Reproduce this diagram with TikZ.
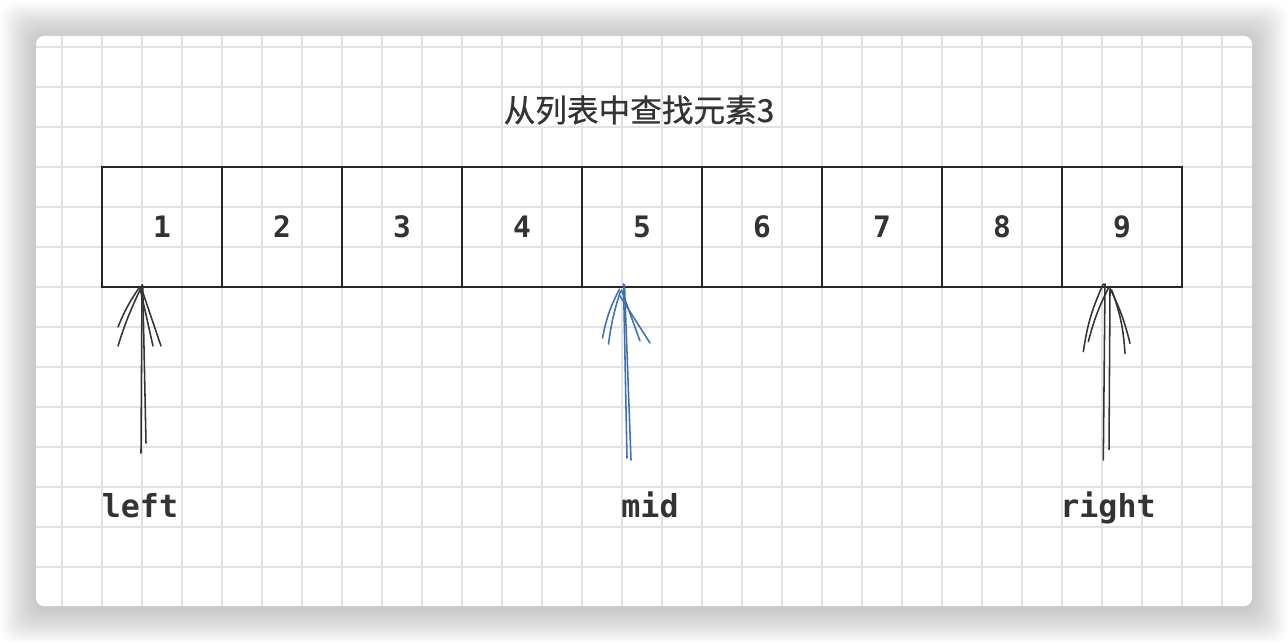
\documentclass[tikz,border=0pt]{standalone}
\usepackage{fontspec}
\usepackage{tikz}
\usetikzlibrary{calc}
\usepackage{xcolor}
\newfontfamily\cjk{Noto Sans CJK SC}[FakeBold=0.6]
\newfontfamily\codefont{DejaVu Sans Mono}
\definecolor{gridgray}{HTML}{E2E2E2}
\definecolor{textgray}{HTML}{333333}
\definecolor{penblue}{HTML}{3D6FB5}
\tikzset{
  cellbox/.style={draw=black!85, line width=1pt, minimum width=3cm, minimum height=3cm,
    inner sep=0pt, outer sep=0pt, text=textgray, font=\codefont\bfseries\fontsize{21}{24}\selectfont},
  ptrlabel/.style={anchor=base, inner sep=0pt, text=textgray, font=\codefont\bfseries\fontsize{22.5}{26}\selectfont},
  sketch/.style={line width=1.1pt, line cap=round, line join=round}
}
\begin{document}
\begin{tikzpicture}[x=0.025cm, y=-0.025cm]
\useasboundingbox (0,0) rectangle (1288,642);
\foreach \k in {1,...,15}
  \fill[black, opacity=0.015, rounded corners=0.35cm] (36-2.3*\k,36-2.3*\k+1) rectangle (1252+2.3*\k,606+2.3*\k+3);
\fill[white, rounded corners=0.2cm] (36,36) rectangle (1252,606);
\begin{scope}
\clip[rounded corners=0.2cm] (36,36) rectangle (1252,606);
\foreach \x in {62,102,...,1222}
  \draw[gridgray, line width=1.4pt] (\x,36) -- (\x,606);
\foreach \y in {46.7,86.7,...,580}
  \draw[gridgray, line width=1.4pt] (36,\y) -- (1252,\y);
\end{scope}
\node[text=textgray, font=\cjk\fontsize{22.5}{26}\selectfont] (title) at (639,110) {从列表中查找元素3};
\foreach \v [count=\i] in {1,...,9}
  \node[cellbox] (c\i) at ({42+120*\i},227) {\v};
\node[ptrlabel] (left) at (140,517) {left};
\node[ptrlabel] (mid) at (650,517) {mid};
\node[ptrlabel] (right) at (1108,517) {right};
\coordinate (ltip) at (142,285);
\coordinate (ltail) at (141,453);
\draw[sketch, black!80] (ltail) -- (ltip);
\draw[sketch, black!80] ($(ltail)+(5,-10)$) -- ($(ltip)+(0.7,0)$);
\draw[sketch, black!80] ($(ltip)+(-3,3)$) to[bend right=6] ($(ltip)+(-24,42)$);
\draw[sketch, black!80] ($(ltip)+(-2,5)$) to[bend right=4] ($(ltip)+(-24,61)$);
\draw[sketch, black!80] ($(ltip)+(-2,3)$) -- ($(ltip)+(11,61)$);
\draw[sketch, black!80] ($(ltip)+(0,5)$) -- ($(ltip)+(19,61)$);
\coordinate (mtip) at (623.5,284);
\coordinate (mtail) at (627,458);
\draw[sketch, penblue] (mtail) -- (mtip);
\draw[sketch, penblue] ($(mtail)+(4,2)$) -- ($(mtip)+(1,1)$);
\draw[sketch, penblue] ($(mtip)+(-4,5)$) to[bend right=8] ($(mtip)+(-21,54)$);
\draw[sketch, penblue] ($(mtip)+(-3,7)$) to[bend right=5] ($(mtip)+(-15,60)$);
\draw[sketch, penblue] ($(mtip)+(-2,6)$) -- ($(mtip)+(16.5,57)$);
\draw[sketch, penblue] ($(mtip)+(-3.5,12)$) -- ($(mtip)+(26.5,59)$);
\coordinate (rtip) at (1105,284);
\coordinate (rtail) at (1103.3,460);
\draw[sketch, black!80] (rtail) -- (rtip);
\draw[sketch, black!80] ($(rtail)+(5.7,-10.7)$) -- ($(rtip)+(5,6)$);
\draw[sketch, black!80] ($(rtip)+(-1.7,0)$) to[bend right=8] ($(rtip)+(-21.7,67.7)$);
\draw[sketch, black!80] ($(rtip)+(3.3,4.3)$) to[bend right=6] ($(rtip)+(-16.7,57.7)$);
\draw[sketch, black!80] ($(rtip)+(5,4.3)$) to[bend left=6] ($(rtip)+(25,59.3)$);
\draw[sketch, black!80] ($(rtip)+(6.7,6)$) to[bend left=8] ($(rtip)+(20,69.3)$);
\end{tikzpicture}
\end{document}
